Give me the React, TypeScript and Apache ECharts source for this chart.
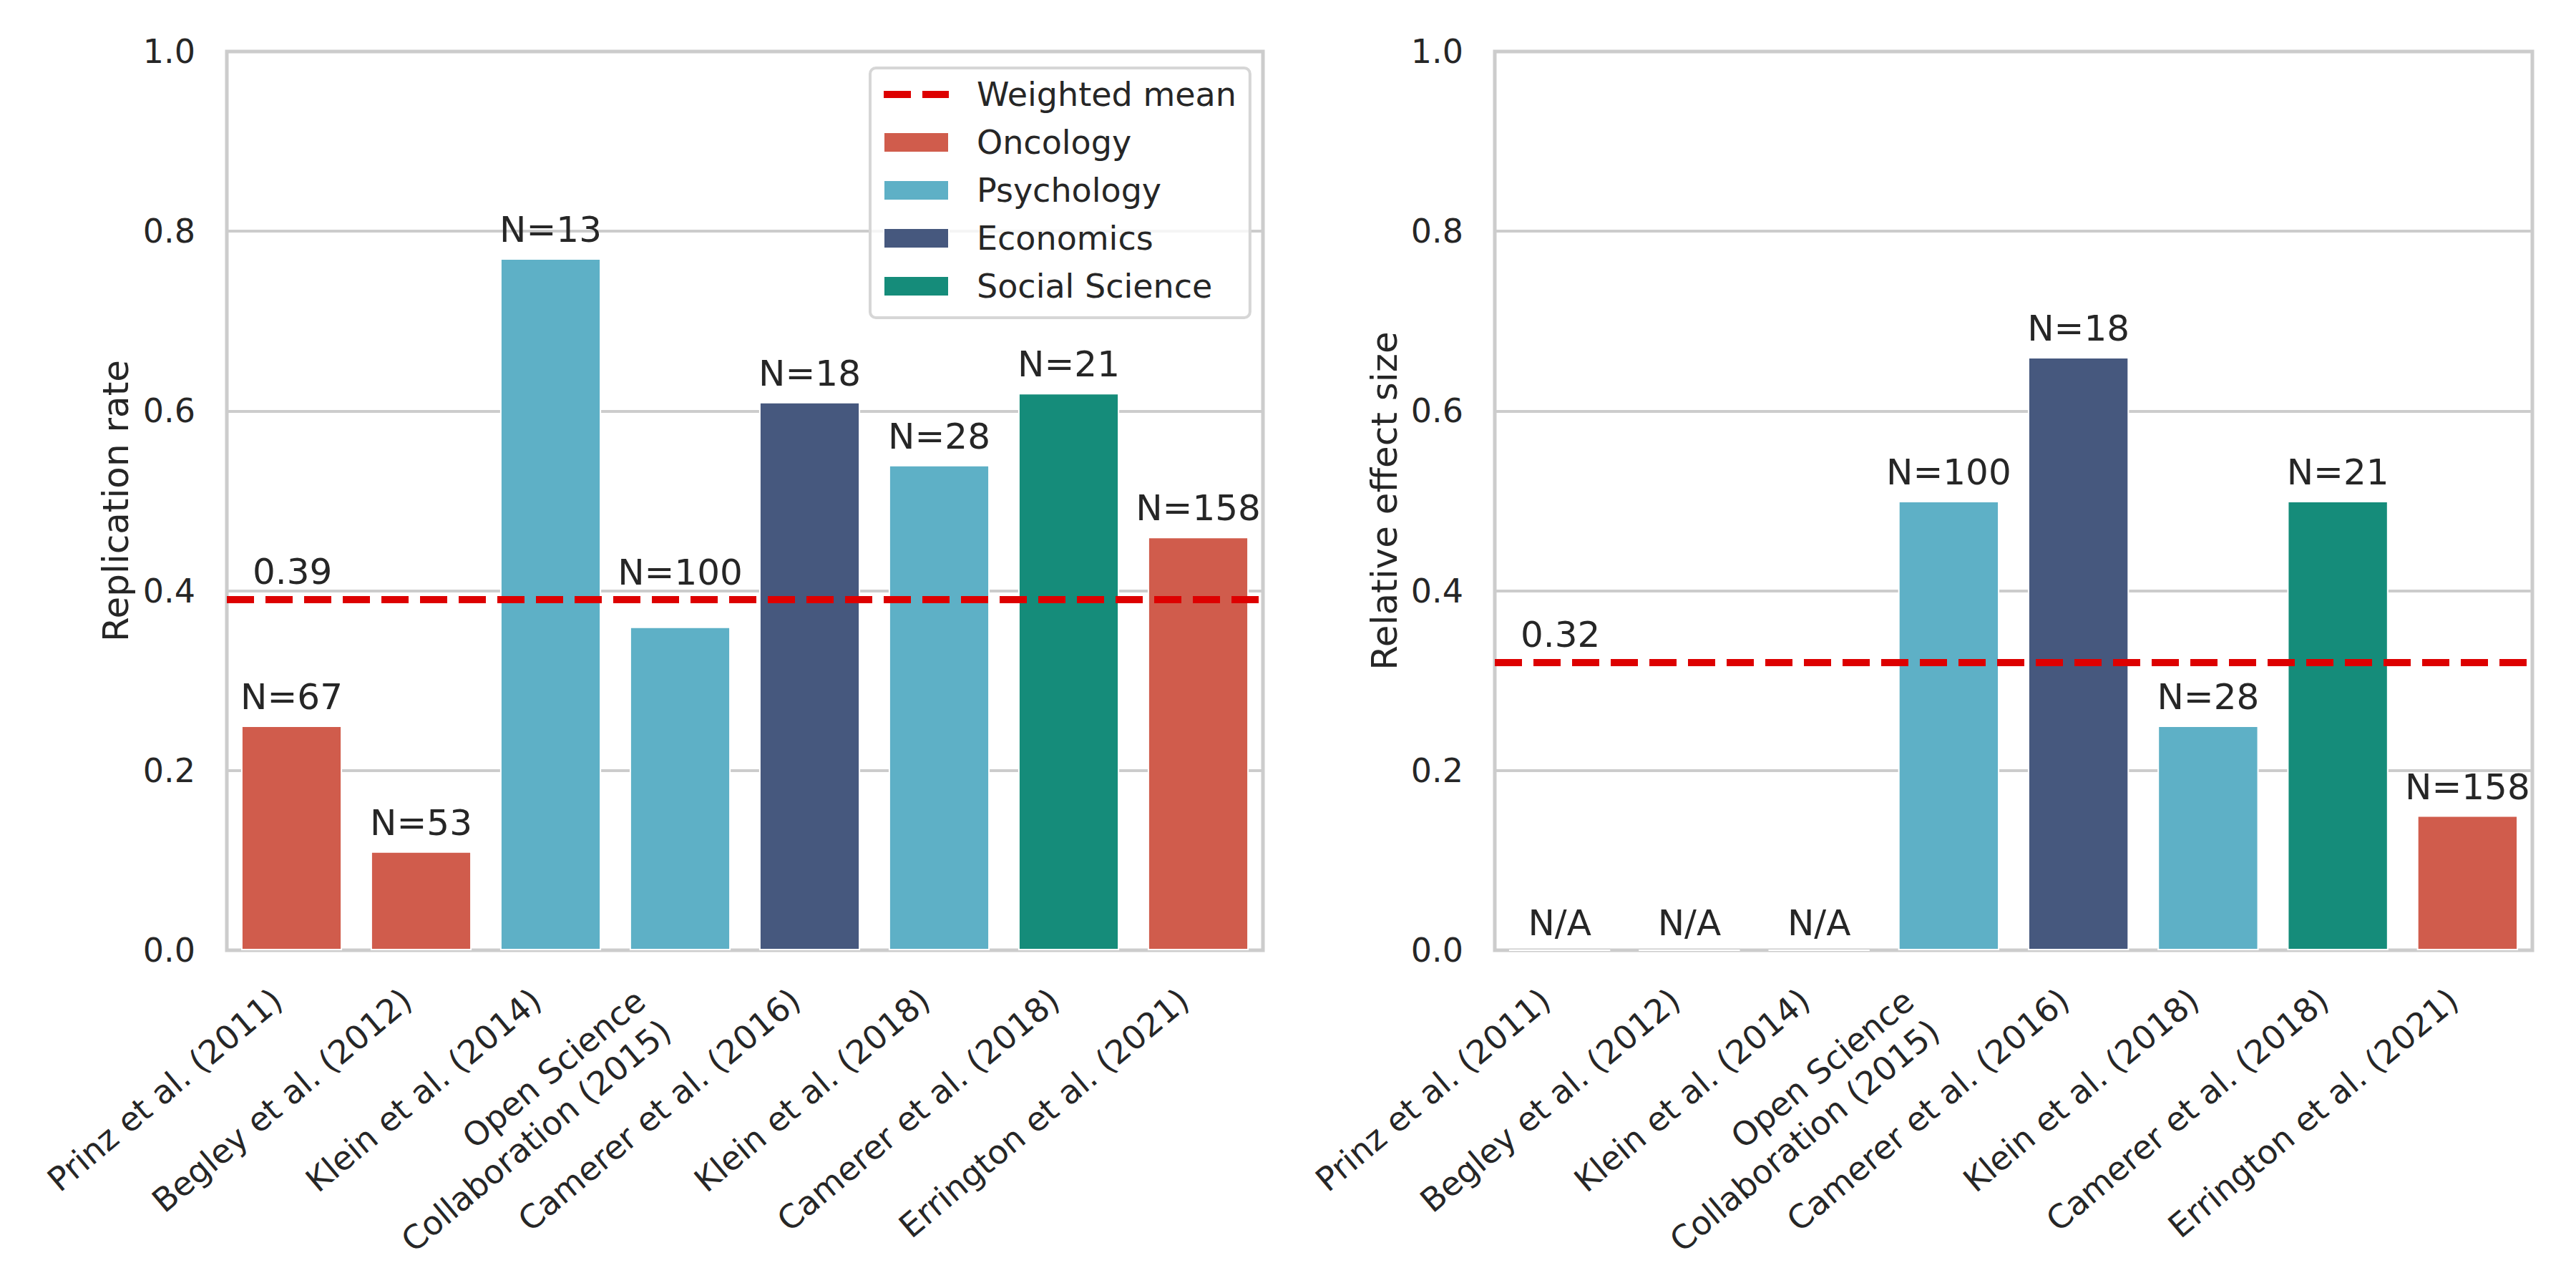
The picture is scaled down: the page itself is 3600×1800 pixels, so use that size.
import React, { useEffect, useRef } from 'react';
import * as echarts from 'echarts';

const studies = [
  'Prinz et al. (2011)',
  'Begley et al. (2012)',
  'Klein et al. (2014)',
  'Open Science\nCollaboration (2015)',
  'Camerer et al. (2016)',
  'Klein et al. (2018)',
  'Camerer et al. (2018)',
  'Errington et al. (2021)',
];
const fields = ['Oncology', 'Oncology', 'Psychology', 'Psychology', 'Economics', 'Psychology', 'Social Science', 'Oncology'];
const sampleSizes = [67, 53, 13, 100, 18, 28, 21, 158];
const replicationRate = [0.25, 0.11, 0.77, 0.36, 0.61, 0.54, 0.62, 0.46];
const relativeEffect: (number | null)[] = [null, null, null, 0.5, 0.66, 0.25, 0.5, 0.15];
const fieldNames = ['Oncology', 'Psychology', 'Economics', 'Social Science'];
const fieldColors = ['#D05C4C', '#5EB0C6', '#46587E', '#158C7A'];
const yTicks = [0, 0.2, 0.4, 0.6, 0.8, 1.0];
const panelTitles = ['Replication rate', 'Relative effect size'];

const FONT = 'DejaVu Sans';
const TEXT = '#262626';
const GRID_COLOR = '#cccccc';
const MEAN_COLOR = '#DD0000';
const PLOT_TOP = 72;
const PLOT_BOTTOM = 472;
const PLOT_H = 1800 - PLOT_TOP - PLOT_BOTTOM;

function weightedMean(vals: (number | null)[]) {
  let s = 0;
  let w = 0;
  vals.forEach((v, i) => {
    if (v != null) {
      s += v * sampleSizes[i];
      w += sampleSizes[i];
    }
  });
  return s / w;
}

const dashIcon =
  'path://M0,0L0.1,0L0.1,0.1Z M91,28L90.9,28L90.9,27.9Z M0,9H38V19H0Z M54,9H91V19H54Z';

const tickFont = { fontSize: 46, fontFamily: FONT, color: TEXT };

export default function App() {
  const ref = useRef<HTMLDivElement>(null);
  useEffect(() => {
    document.body.style.margin = '0';
    if (!ref.current) return;
    const chart = echarts.init(ref.current, undefined, { renderer: 'svg' });
    const panels = [replicationRate, relativeEffect];
    const grids = [
      { left: 317, right: 1835 },
      { left: 2089, right: 61 },
    ].map((g) => ({
      ...g,
      top: PLOT_TOP,
      bottom: PLOT_BOTTOM,
      show: true,
      borderColor: GRID_COLOR,
      borderWidth: 5,
      backgroundColor: 'transparent',
    }));

    const xAxis = panels.map((_, g) => ({
      type: 'category',
      gridIndex: g,
      data: studies,
      axisLine: { show: false },
      axisTick: { show: false },
      splitLine: { show: false },
      axisLabel: {
        interval: 0,
        rotate: 40,
        ...tickFont,
        align: 'right',
        verticalAlign: 'top',
        padding: [0, 48, 0, 0],
        margin: 12,
        lineHeight: 53,
        formatter: (v: string) => {
          if (v.indexOf('\n') < 0) return `{s|${v}}`;
          return v
            .split('\n')
            .map((line, k) => (k === 0 ? `{l1|${line}}{g1| }` : `{l2|${line}}{g2| }`))
            .join('\n');
        },
        rich: {
          s: { ...tickFont, lineHeight: 53 },
          l1: { ...tickFont, lineHeight: 8 },
          l2: { ...tickFont, lineHeight: 104 },
          g1: { ...tickFont, lineHeight: 8, width: 28 },
          g2: { ...tickFont, lineHeight: 104, width: 28 },
        },
      },
    }));

    const yAxis = panels.map((_, g) => ({
      type: 'value',
      gridIndex: g,
      min: yTicks[0],
      max: yTicks[yTicks.length - 1],
      interval: 0.2,
      name: panelTitles[g],
      nameLocation: 'middle',
      nameGap: g === 0 ? 130 : 129,
      nameTextStyle: { fontSize: 50, fontFamily: FONT, color: TEXT },
      axisLine: { show: false },
      axisTick: { show: false },
      splitLine: { lineStyle: { color: GRID_COLOR, width: 4 } },
      axisLabel: {
        formatter: (v: number) => v.toFixed(1),
        ...tickFont,
        margin: 44,
      },
    }));

    const series: any[] = [];
    panels.forEach((vals, g) => {
      const mean = weightedMean(vals);
      fieldNames.forEach((f, fi) => {
        series.push({
          type: 'bar',
          name: f,
          xAxisIndex: g,
          yAxisIndex: g,
          stack: 'panel' + g,
          barWidth: '78%',
          itemStyle: { color: fieldColors[fi], borderColor: '#ffffff', borderWidth: 2 },
          label: {
            show: true,
            position: 'top',
            fontSize: 50,
            fontFamily: FONT,
            color: TEXT,
            lineHeight: 50,
          },
          data: studies.map((_, i) => {
            if (fields[i] !== f) return '-';
            const v = vals[i];
            let distance = 15;
            if (v == null) distance = 12;
            else if (v < mean && mean - v < 0.05) distance = 15 + (mean - v) * PLOT_H - 7;
            return {
              value: v == null ? 0 : v,
              label: {
                formatter: v == null ? 'N/A' : `N=${sampleSizes[i]}`,
                distance,
              },
            };
          }),
        });
      });
      series.push({
        type: 'line',
        name: 'Weighted mean',
        xAxisIndex: g,
        yAxisIndex: g,
        data: studies.map(() => '-'),
        symbol: 'none',
        color: MEAN_COLOR,
        lineStyle: { color: MEAN_COLOR, width: 10, type: [38, 16] },
        z: 10,
        markLine: {
          silent: true,
          symbol: ['none', 'none'],
          z: 10,
          emphasis: { disabled: true },
          lineStyle: { color: MEAN_COLOR, width: 10, type: [38, 16] },
          label: {
            show: true,
            position: 'insideStartTop',
            formatter: mean.toFixed(2),
            fontSize: 50,
            fontFamily: FONT,
            color: TEXT,
            lineHeight: 50,
            distance: [36, 14],
          },
          data: [{ yAxis: mean }],
        },
      });
    });

    chart.setOption({
      animation: false,
      backgroundColor: '#ffffff',
      grid: grids,
      xAxis,
      yAxis,
      legend: {
        show: true,
        left: 1216,
        top: 95,
        orient: 'vertical',
        itemWidth: 91,
        itemHeight: 28,
        itemGap: 21,
        padding: [14, 19, 21, 18],
        backgroundColor: 'rgba(255,255,255,0.8)',
        borderColor: '#d6d6d6',
        borderWidth: 4,
        borderRadius: 8,
        selectedMode: false,
        textStyle: { fontSize: 46, fontFamily: FONT, color: TEXT, lineHeight: 46, padding: [0, 0, 0, 34] },
        data: [
          { name: 'Weighted mean', icon: dashIcon, itemStyle: { color: MEAN_COLOR, borderWidth: 0 } },
          ...fieldNames.map((n) => ({ name: n, icon: 'rect' })),
        ],
      },
      series,
    });
    return () => chart.dispose();
  }, []);
  return <div ref={ref} style={{ width: 3600, height: 1800 }} />;
}
